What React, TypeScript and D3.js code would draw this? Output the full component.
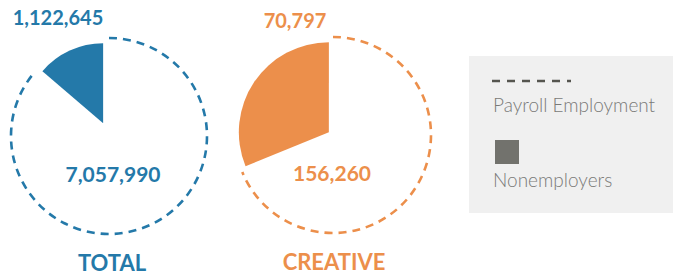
import { useEffect, useRef } from "react";
import * as d3 from "d3";

const categories = ["TOTAL", "CREATIVE"];
const nonemployers = [1122645, 70797];
const payroll = [7057990, 156260];
const legendLabels = ["Payroll Employment", "Nonemployers"];

const colors = ["#2479a9", "#ec8f4b"];

const App = () => {
    const ref = useRef<SVGSVGElement>(null);

    useEffect(() => {
        const svg = d3.select(ref.current);
        svg.selectAll("*").remove();

        const fmt = d3.format(",");
        // layout of each pie (centre, dashed radius, slice radius, explode offset, label spots)
        const layout = [
            { cx: 109, cy: 136, r: 98, rSlice: 80, offset: 14, topX: 58, topY: 25, innerX: 4, catX: 3 },
            { cx: 333, cy: 135, r: 98, rSlice: 90, offset: 5, topX: 295, topY: 28, innerX: -1, catX: 1 },
        ];

        const pie = d3.pie<number>().sort(null).value(d => d);

        categories.forEach((cat, i) => {
            const L = layout[i];
            const g = svg.append("g").attr("transform", `translate(${L.cx},${L.cy})`);
            const arcs = pie([payroll[i], nonemployers[i]]);

            // payroll: dashed outline arc only
            const p = d3.path();
            p.arc(0, 0, L.r, arcs[0].startAngle - Math.PI / 2, arcs[0].endAngle - Math.PI / 2);
            g.append("path")
                .attr("d", p.toString())
                .attr("fill", "none")
                .attr("stroke", colors[i])
                .attr("stroke-width", 2.6)
                .attr("stroke-dasharray", "8 6");

            // nonemployers: filled exploded slice
            const a = arcs[1];
            const mid = (a.startAngle + a.endAngle) / 2;
            const arc = d3.arc<d3.PieArcDatum<number>>().innerRadius(0).outerRadius(L.rSlice);
            g.append("path")
                .attr("d", arc(a))
                .attr("transform", `translate(${Math.sin(mid) * L.offset},${-Math.cos(mid) * L.offset})`)
                .attr("fill", colors[i]);

            svg.append("text")
                .attr("x", L.topX)
                .attr("y", L.topY)
                .attr("text-anchor", "middle")
                .attr("font-family", "Lato")
                .attr("font-weight", 700)
                .attr("font-size", 20)
                .attr("fill", colors[i])
                .text(fmt(nonemployers[i]));

            g.append("text")
                .attr("x", L.innerX)
                .attr("y", 46)
                .attr("text-anchor", "middle")
                .attr("font-family", "Lato")
                .attr("font-weight", 700)
                .attr("font-size", 21)
                .attr("fill", colors[i])
                .text(fmt(payroll[i]));

            g.append("text")
                .attr("x", L.catX)
                .attr("y", 135)
                .attr("text-anchor", "middle")
                .attr("font-family", "Lato")
                .attr("font-weight", 700)
                .attr("font-size", 22)
                .attr("fill", colors[i])
                .text(cat);
        });

        // legend
        const lg = svg.append("g").attr("transform", "translate(469,56)");
        lg.append("rect").attr("width", 204).attr("height", 157).attr("fill", "#f0f0f0");
        lg.append("line")
            .attr("x1", 23).attr("x2", 102).attr("y1", 25).attr("y2", 25)
            .attr("stroke", "#55554f")
            .attr("stroke-width", 2.4)
            .attr("stroke-dasharray", "8 7");
        lg.append("text")
            .attr("x", 24).attr("y", 56)
            .attr("font-family", "Lato").attr("font-weight", 300).attr("font-size", 19)
            .attr("fill", "#7a7a78")
            .text(legendLabels[0]);
        lg.append("rect")
            .attr("x", 26).attr("y", 84).attr("width", 24).attr("height", 24)
            .attr("fill", "#72726d");
        lg.append("text")
            .attr("x", 24).attr("y", 131)
            .attr("font-family", "Lato").attr("font-weight", 300).attr("font-size", 19)
            .attr("fill", "#7a7a78")
            .text(legendLabels[1]);
    }, []);

    return (
        <svg ref={ref} width={673} height={278}
            style={{ position: "absolute", left: 0, top: 0, background: "#fff" }} />
    );
};

export default App;
